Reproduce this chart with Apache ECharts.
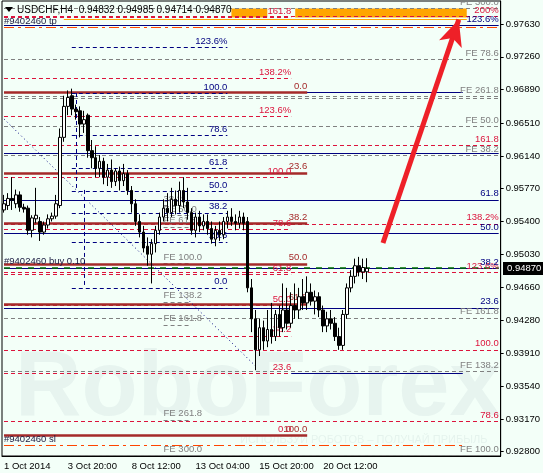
<!DOCTYPE html>
<html><head><meta charset="utf-8">
<script src="https://cdn.jsdelivr.net/npm/echarts@6/dist/echarts.min.js"></script>
<style>html,body{margin:0;padding:0;background:#F3FFF8;}#c{width:543px;height:473px;}</style>
</head><body><div id="c"></div><script>
// ---------- data ----------
const tickIndex = [0, 16, 32, 48, 64, 80];
const tickLabels = ['1 Oct 2014', '3 Oct 20:00', '8 Oct 12:00', '13 Oct 04:00', '15 Oct 20:00', '20 Oct 12:00'];
const yTicks = [0.92800, 0.93170, 0.93540, 0.93910, 0.94280, 0.94660, 0.95030, 0.95400, 0.95770, 0.96140, 0.96510, 0.96890, 0.97260, 0.97630];
const lastPrice = 0.94870;
const titleText = 'USDCHF,H4  0.94832 0.94985 0.94714 0.94870';

const opens = [.9553,.9558,.9566,.9560,.9570,.9556,.9555,.9530,.9543,.9540,.9528,.9536,.9543,.9546,.9558,.9635,.9670,.9682,.9667,.9665,.9650,.9660,.9620,.9612,.9600,.9608,.9590,.9598,.9585,.9597,.9586,.9594,.9575,.9560,.9540,.9528,.9512,.9503,.9515,.9530,.9545,.9555,.9550,.9565,.9558,.9575,.9562,.9550,.9530,.9545,.9535,.9540,.9532,.9520,.9530,.9525,.9540,.9545,.9540,.9538,.9545,.9540,.9465,.9430,.9395,.9420,.9405,.9418,.9410,.9435,.9420,.9440,.9425,.9445,.9440,.9455,.9448,.9460,.9450,.9455,.9440,.9422,.9430,.9425,.9410,.9400,.9435,.9465,.9478,.9490,.9483,.94832];
const highs = [.9570,.9572,.9590,.9576,.9574,.9560,.9558,.9547,.9578,.9545,.9540,.9548,.9550,.9570,.9645,.9682,.9688,.9690,.9672,.9670,.9665,.9662,.9632,.9625,.9615,.9612,.9605,.9610,.9600,.9602,.9605,.9598,.9580,.9565,.9548,.9535,.9522,.9520,.9535,.9550,.9565,.9572,.9578,.9575,.9585,.9590,.9578,.9555,.9550,.9552,.9548,.9548,.9540,.9535,.9540,.9545,.9552,.9555,.9548,.9552,.9550,.9545,.9475,.9440,.9430,.9428,.9440,.9448,.9440,.9445,.9470,.9465,.9460,.9470,.9465,.9475,.9478,.9470,.9462,.9460,.9445,.9438,.9440,.9432,.9420,.9440,.9470,.9485,.9498,.9500,.9498,.94985];
const lows = [.9550,.9553,.9553,.9555,.9551,.9550,.9525,.9522,.9538,.9518,.9525,.9532,.9540,.9543,.9555,.9630,.9660,.9660,.9655,.9635,.9640,.9612,.9600,.9590,.9590,.9582,.9580,.9578,.9580,.9575,.9580,.9570,.9550,.9535,.9522,.9505,.9490,.9470,.9505,.9525,.9540,.9540,.9545,.9548,.9550,.9555,.9542,.9525,.9522,.9528,.9530,.9525,.9515,.9512,.9518,.9520,.9532,.9535,.9530,.9532,.9530,.9460,.9415,.9372,.9388,.9395,.9398,.9402,.9405,.9410,.9415,.9418,.9420,.9430,.9430,.9440,.9440,.9445,.9435,.9432,.9415,.9415,.9418,.9405,.9395,.9395,.9430,.9460,.9470,.9478,.9475,.94714];
const closes = [.9560,.9566,.9564,.9570,.9556,.9554,.9530,.9544,.9547,.9528,.9536,.9543,.9546,.9560,.9635,.9670,.9680,.9667,.9664,.9650,.9655,.9620,.9612,.9600,.9608,.9590,.9598,.9585,.9597,.9586,.9594,.9575,.9560,.9540,.9528,.9510,.9503,.9515,.9530,.9545,.9555,.9550,.9565,.9558,.9575,.9562,.9550,.9530,.9545,.9535,.9540,.9532,.9520,.9530,.9525,.9540,.9545,.9540,.9538,.9545,.9538,.9465,.9430,.9395,.9420,.9405,.9418,.9410,.9435,.9420,.9440,.9425,.9445,.9440,.9455,.9448,.9460,.9450,.9455,.9440,.9422,.9430,.9425,.9410,.9400,.9435,.9465,.9478,.9490,.9483,.9488,.94870];

// Fibonacci / object levels (prices) and their texts
const brownPrices = [0.96863, 0.95949, 0.95384, 0.94922, 0.94470, 0.92981];
const brownLabels = ['0.0', '23.6', '38.2', '50.0', '61.8', '100.0'];
const redAPrices = [0.97709, 0.97021, 0.96592, 0.95903, 0.95316, 0.94808, 0.94457, 0.94108, 0.93680, 0.92981];
const redALabels = ['161.8', '138.2%', '123.6%', '100.0', '78.6', '61.8', '50.0', '38.2', '23.6', '0.0'];
const redBPrices = [0.97720, 0.96265, 0.95373, 0.94830, 0.93951, 0.93139];
const redBLabels = ['200%', '161.8', '138.2%', '123.6%', '100.0', '78.6'];
const navyDashPrices = [0.97370, 0.96851, 0.96377, 0.96005, 0.95745, 0.95497, 0.95170, 0.94651];
const navyDashLabels = ['123.6%', '100.0', '78.6', '61.8', '50.0', '38.2', '23.6', '0.0'];
const navyPrices = [0.97619, 0.96174, 0.95644, 0.95271, 0.94875, 0.94425];
const navyLabels = ['123.6%', '', '61.8', '50.0', '38.2', '23.6'];
const navyShortPrices = [0.96863, 0.93680];
const feRightPrices = [0.97811, 0.97235, 0.96817, 0.96790, 0.96479, 0.96152, 0.94312, 0.93712, 0.92760];
const feRightLabels = ['FE 300.0', 'FE 78.6', 'FE 261.8', '', 'FE 50.0', 'FE 38.2', 'FE 161.8', 'FE 138.2', 'FE 100.0'];
const feLeftPrices = [0.95587, 0.95474, 0.95339, 0.94932, 0.94492, 0.94232, 0.93160, 0.92760];
const feLeftLabels = ['38.2', 'FE 50.0', 'FE 61.8', 'FE 100.0', 'FE 138.2', 'FE 161.8', 'FE 261.8', 'FE 300.0'];
const orderPrices = [0.97596, 0.94880, 0.92868];
const orderLabels = ['#9402460 tp', '#9402460 buy 0.10', '#9402460 sl'];
const targetZone = [0.97805, 0.97703];
const targetLine = 0.97681;
const trendLine = [0.96558, 0.93769];
const fiboVertical = [0.96851, 0.95756, 0.94651];
const arrowPrices = [0.95157, 0.97680];

// ---------- chart ----------
const N = 125;
const cats = Array.from({length: N}, (_, i) => String(i));
const candles = opens.map((o, i) => [o, closes[i], lows[i], highs[i]]);
const FONT = 'Liberation Sans';
const FS = 9.5;

function lvl(prices, labels, x0, x1, color, type, width, pos) {
  return prices.map((p, i) => [
    { coord: [x0, p], lineStyle: { color, type, width },
      label: { show: !!(labels && labels[i]), formatter: labels ? labels[i] : '', position: pos,
               color, fontFamily: FONT, fontSize: FS, distance: [0, 1] } },
    { coord: [x1, p] }
  ]);
}
const dash = [4, 3];
const gray = '#808080', red = '#DC143C', navy = '#000080', brown = '#A52A2A';
const lineData = [].concat(
  lvl(feRightPrices, feRightLabels, 0, 124, gray, dash, 1, 'insideEndTop'),
  lvl(feLeftPrices, feLeftLabels, 40, 47, gray, dash, 1, 'insideStartTop'),
  lvl(redBPrices, redBLabels, 0, 124, red, dash, 1, 'insideEndTop'),
  lvl(redAPrices, redALabels, 0, 72, red, dash, 1, 'insideEndTop'),
  lvl(navyPrices, navyLabels, 0, 124, navy, 'solid', 1, 'insideEndTop'),
  lvl(navyShortPrices, null, 72, 115, navy, 'solid', 1, 'insideEndTop'),
  lvl(brownPrices, brownLabels, 0, 76, brown, 'solid', 2.5, 'insideEndTop'),
  lvl(navyDashPrices, navyDashLabels, 17, 56, navy, dash, 1, 'insideEndTop'),
  lvl([orderPrices[0]], [orderLabels[0]], 0, 124, '#FF4500', [10, 4, 3, 4], 1, 'insideStartTop'),
  lvl([orderPrices[2]], [orderLabels[2]], 0, 115, '#FF4500', [10, 4, 3, 4], 1, 'insideStartTop'),
  lvl([orderPrices[1]], [orderLabels[1]], 0, 124, '#007000', [6, 6], 1.5, 'insideStartTop'),
  lvl([targetLine], null, 15, 116, '#FFA500', 'solid', 1, 'insideEndTop'),
  [[{ coord: [0, trendLine[0]], lineStyle: { color: navy, type: [1, 3], width: 1 }, label: { show: false } }, { coord: [63, trendLine[1]] }],
   [{ coord: [18, fiboVertical[0]], lineStyle: { color: navy, type: dash, width: 1 }, label: { show: false } }, { coord: [18, fiboVertical[1]] }],
   [{ coord: [20, fiboVertical[1]], lineStyle: { color: navy, type: dash, width: 1 }, label: { show: false } }, { coord: [20, fiboVertical[2]] }]]
);
lineData.forEach(d => { if (orderLabels.includes(d[0].label.formatter)) d[0].label.color = '#1a1a40'; });

const chart = echarts.init(document.getElementById('c'), null, { renderer: 'canvas' });
chart.setOption({
  animation: false,
  backgroundColor: '#F3FFF8',
  grid: { left: 2, right: 41, top: 1, bottom: 17, show: true, borderColor: '#000', borderWidth: 1, backgroundColor: 'transparent' },
  xAxis: {
    type: 'category', data: cats, boundaryGap: true,
    axisLine: { lineStyle: { color: '#000' } },
    axisTick: { alignWithLabel: true, length: 3, interval: (i) => tickIndex.includes(i), lineStyle: { color: '#000' } },
    axisLabel: { interval: (i) => tickIndex.includes(i), formatter: (v, i) => tickLabels[tickIndex.indexOf(+v)] || '',
                 align: 'left', margin: 5, color: '#000', fontFamily: FONT, fontSize: FS },
    splitLine: { show: false }
  },
  yAxis: {
    type: 'value', position: 'right', min: 0.92751, max: 0.97890, scale: true,
    axisLine: { show: true, lineStyle: { color: '#000' } },
    axisTick: { show: true, length: 3, customValues: yTicks, lineStyle: { color: '#000' } },
    axisLabel: { customValues: yTicks, formatter: (v) => v.toFixed(5), margin: 5, color: '#000', fontFamily: FONT, fontSize: FS },
    splitLine: { show: false }
  },
  graphic: [
    { type: 'text', z: 0, silent: true, style: { text: 'RoboForex', x: 15, y: 390, textVerticalAlign: 'middle', font: 'bold 92px "Liberation Sans"', fill: 'rgba(110,135,150,0.09)' } },
    { type: 'text', z: 0, silent: true, style: { text: 'ИСПОЛЬЗУЙ РОБОТОВ – ПОЛУЧАЙ ПРИБЫЛЬ', x: 240, y: 440, textVerticalAlign: 'middle', font: '11px "Liberation Sans"', fill: 'rgba(110,135,150,0.10)' } },
    { type: 'polygon', z: 50, silent: true, shape: { points: [[5, 7], [13, 7], [9, 12]] }, style: { fill: '#000' } },
    { type: 'text', z: 50, silent: true, style: { text: titleText, x: 17, y: 10, textVerticalAlign: 'middle', font: '10px "Liberation Sans"', fill: '#000' } },
    { type: 'rect', z: 60, silent: true, shape: { x: 503, y: 262, width: 40, height: 13 }, style: { fill: '#000' } },
    { type: 'text', z: 61, silent: true, style: { text: lastPrice.toFixed(5), x: 507, y: 268.5, textVerticalAlign: 'middle', font: '9.5px "Liberation Sans"', fill: '#fff' } }
  ],
  series: [
    { type: 'line', data: [], z: 2, silent: true,
      markArea: { silent: true, itemStyle: { color: '#FFA500' },
        data: [[{ coord: [57, targetZone[0]] }, { coord: [66, targetZone[1]] }], [{ coord: [73, targetZone[0]] }, { coord: [116, targetZone[1]] }]] },
      markLine: { silent: true, symbol: ['none', 'none'], z: 2, animation: false, data: lineData } },
    { type: 'candlestick', data: candles, barWidth: 3, z: 10, silent: true,
      itemStyle: { color: '#ffffff', color0: '#000000', borderColor: '#000000', borderColor0: '#000000', borderWidth: 1 } },
    { type: 'line', data: [], z: 40, silent: true,
      markLine: { silent: true, z: 40, animation: false, symbol: ['none', 'arrow'], symbolSize: [18, 26],
        data: [[{ coord: [95, arrowPrices[0]], lineStyle: { color: '#EE2028', width: 5, type: 'solid' }, label: { show: false } }, { coord: [114, arrowPrices[1]] }]] } }
  ]
});
</script></body></html>
